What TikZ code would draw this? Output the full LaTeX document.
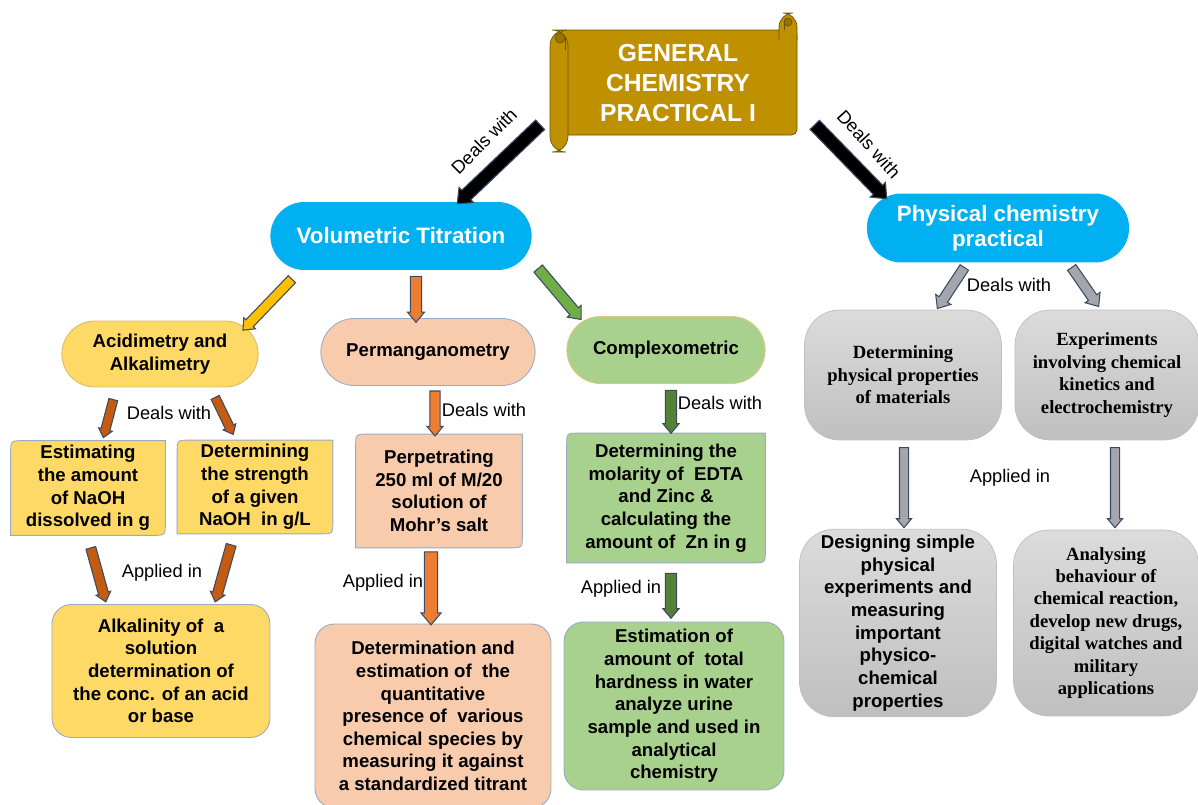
\documentclass[tikz,border=0pt]{standalone}
\usepackage{fontspec}
\setsansfont{Liberation Sans}
\newfontfamily\timesfam{Liberation Serif}
\usetikzlibrary{shapes.misc,shapes.arrows,calc,backgrounds}
\definecolor{scroll}{HTML}{BF9000}
\definecolor{scrolledge}{HTML}{6B5200}
\definecolor{titleblue}{HTML}{00B0F0}
\definecolor{acidfill}{HTML}{FFD966}
\definecolor{permfill}{HTML}{F8CBAD}
\definecolor{compfill}{HTML}{A9D18E}
\definecolor{boxedge}{HTML}{9AAAC4}
\definecolor{arrowedge}{HTML}{3B4A63}
\definecolor{arryellow}{HTML}{FFC000}
\definecolor{arrorange}{HTML}{ED7D31}
\definecolor{arrbrown}{HTML}{C55A11}
\definecolor{arrgreen}{HTML}{70AD47}
\definecolor{arrdkgreen}{HTML}{548235}
\definecolor{arrgray}{HTML}{A3A6AD}

\tikzset{
	txt/.style={font=\sffamily\bfseries\fontsize{10.6}{12.9}\selectfont, align=center},
	sertxt/.style={font=\timesfam\bfseries\fontsize{10.6}{12.8}\selectfont, align=center},
	stadium/.style={rounded rectangle, draw=boxedge, line width=0.5pt, txt},
	diag/.style={rectangle, inner sep=0pt, txt},
	roundbox/.style={rectangle, rounded corners=11pt, draw=boxedge, line width=0.5pt, txt},
	barrel/.style={rectangle, rounded corners=20pt, draw=black!25, top color=black!14, bottom color=black!25},
	lbl/.style={font=\sffamily\fontsize{10.4}{12}\selectfont, inner sep=1pt},
	barrow/.style={single arrow, fill=#1, draw=arrowedge, line width=0.6pt, inner xsep=0pt, single arrow tip angle=80},
	shaft/.style={inner ysep=#1*0.285pt},
	head/.style={single arrow head extend=#1*0.285pt}
}

% block arrow between two named points
\newcommand\blockarrow[3]{%
	\path let \p1=(#2), \p2=(#3), \n1={atan2(\y2-\y1,\x2-\x1)}, \n2={veclen(\x2-\x1,\y2-\y1)} in
		node[#1, minimum height=\n2, rotate=\n1] at ($(#2)!0.5!(#3)$) {};}
% box with top left and bottom right corners rounded
\newcommand\diagshape[2]{%
	\begin{pgfonlayer}{background}
	\draw[fill=#2, draw=boxedge, line width=0.5pt] ([yshift=-7pt]#1.north west) .. controls (#1.north west) .. ([xshift=7pt]#1.north west)
		-- (#1.north east) -- ([yshift=7pt]#1.south east) .. controls (#1.south east) .. ([xshift=-7pt]#1.south east)
		-- (#1.south west) -- cycle;
	\end{pgfonlayer}}

\begin{document}
\begin{tikzpicture}[x=0.02cm,y=-0.02cm]
	\useasboundingbox (0,0) rectangle (1198,805);
	% title scroll
	\draw[scrolledge, fill=scroll, rounded corners=3] (560,30) rectangle (797,135);
	\draw[scrolledge, fill=scroll, rounded corners=8] (779,40) -- (779,13) -- (797,13) -- (797,40);
	\draw[scrolledge, fill=scroll!80!black] (788,22) circle (4);
	\draw[scrolledge] (784,30) -- (784,22);
	\draw[scrolledge, fill=scroll, rounded corners=9] (550,30) rectangle (568,152);
	\draw[scrolledge, fill=scroll!80!black] (560,38) circle (5);
	\draw[scrolledge] (565,38) -- (565,50);
	\node[text=white, align=center, font=\sffamily\bfseries\fontsize{14}{17}\selectfont] (title) at (678,83) {GENERAL\\CHEMISTRY\\PRACTICAL I};

	% first level
	\node[stadium, draw=none, fill=titleblue, text=white, font=\sffamily\bfseries\fontsize{12.7}{14.2}\selectfont, minimum width=5.46cm, minimum height=1.36cm] (vt) at (401,236) {Volumetric Titration};
	\node[stadium, draw=none, fill=titleblue, text=white, font=\sffamily\bfseries\fontsize{12.7}{14.2}\selectfont, minimum width=5.48cm, minimum height=1.38cm] (pc) at (998,228) {Physical chemistry\\practical};
	\node[lbl, rotate=45] (dwl) at (484,141) {Deals with};
	\node[lbl, rotate=-48] (dwr) at (869,144) {Deals with};

	% volumetric branch
	\node[stadium, fill=acidfill, draw=scroll!60, minimum width=4.16cm, minimum height=1.32cm] (aa) at (160,354) {Acidimetry and\\Alkalimetry};
	\node[stadium, fill=permfill, minimum width=4.52cm, minimum height=1.34cm] (pm) at (428,352) {Permanganometry};
	\node[stadium, fill=compfill, draw=scroll!50, minimum width=4.2cm, minimum height=1.34cm] (cx) at (666,350) {Complexometric};

	\node[diag, minimum width=3.08cm, minimum height=1.88cm] (est) at (88,488) {Estimating\\the amount\\of NaOH\\dissolved in g};
	\node[diag, minimum width=3.1cm, minimum height=1.86cm] (det) at (255,487) {Determining\\the strength\\of a given\\NaOH~ in g/L};
	\node[diag, minimum width=3.32cm, minimum height=2.26cm] (per) at (439,491) {Perpetrating\\250 ml of M/20\\solution of\\Mohr's salt};
	\node[diag, minimum width=3.96cm, minimum height=2.58cm] (mol) at (666,498) {Determining the\\molarity of~ EDTA\\and Zinc \&\\calculating the\\amount of~ Zn in g};
	\diagshape{est}{acidfill}
	\diagshape{det}{acidfill}
	\diagshape{per}{permfill}
	\diagshape{mol}{compfill}

	\node[roundbox, fill=acidfill, minimum width=4.36cm, minimum height=2.66cm] (alk) at (161,671) {Alkalinity of~ a\\solution\\determination of\\the conc. of an acid\\or base};
	\node[roundbox, fill=permfill, minimum width=4.72cm, minimum height=3.68cm] (dee) at (433,716) {Determination and\\estimation of~ the\\quantitative\\presence of~ various\\chemical species by\\measuring it against\\a standardized titrant};
	\node[roundbox, fill=compfill, minimum width=4.4cm, minimum height=3.36cm] (eah) at (674,706) {Estimation of\\amount of~ total\\hardness in water\\analyze urine\\sample and used in\\analytical\\chemistry};

	\node[lbl] (dw1) at (169,413) {Deals with};
	\node[lbl] (dw2) at (484,410) {Deals with};
	\node[lbl] (dw3) at (720,403) {Deals with};
	\node[lbl] (ap1) at (162,573) {Applied in};
	\node[lbl] (ap2) at (383,583) {Applied in};
	\node[lbl] (ap3) at (621,589) {Applied in};

	% physical branch
	\node[barrel, sertxt, minimum width=3.94cm, minimum height=2.6cm] (dpp) at (903,375) {Determining\\physical properties\\of materials};
	\node[barrel, sertxt, minimum width=3.68cm, minimum height=2.6cm] (eck) at (1107,375) {Experiments\\involving chemical\\kinetics and\\electrochemistry};
	\node[barrel, txt, minimum width=3.94cm, minimum height=3.72cm] (dsp) at (898,623) {Designing simple\\physical\\experiments and\\measuring\\important\\physico-\\chemical\\properties};
	\node[barrel, sertxt, minimum width=3.7cm, minimum height=3.72cm] (abc) at (1106,623) {Analysing\\behaviour of\\chemical reaction,\\develop new drugs,\\digital watches and\\military\\applications};
	\node[lbl] (dw4) at (1009,285) {Deals with};
	\node[lbl] (ap4) at (1010,478) {Applied in};

	% arrow end points
	\coordinate (bl1) at (543,122); \coordinate (bl2) at (460,201);
	\coordinate (br1) at (812,122); \coordinate (br2) at (884,196);
	\coordinate (y1) at (294,277);  \coordinate (y2) at (245,328);
	\coordinate (o1) at (416,273);  \coordinate (o2) at (416,319);
	\coordinate (g1) at (536,266);  \coordinate (g2) at (579,317);
	\coordinate (b1) at (114,397);  \coordinate (b2) at (104,435);
	\coordinate (b3) at (214,395);  \coordinate (b4) at (232,432);
	\coordinate (o3) at (435,388);  \coordinate (o4) at (435,433);
	\coordinate (g3) at (671,387);  \coordinate (g4) at (671,430);
	\coordinate (b5) at (90,545);   \coordinate (b6) at (105,599);
	\coordinate (b7) at (232,542);  \coordinate (b8) at (216,599);
	\coordinate (o5) at (431,548);  \coordinate (o6) at (431,621);
	\coordinate (g5) at (671,570);  \coordinate (g6) at (671,615);
	\coordinate (s1) at (966,265);  \coordinate (s2) at (939,306);
	\coordinate (s3) at (1070,265); \coordinate (s4) at (1097,304);
	\coordinate (s5) at (904,445);  \coordinate (s6) at (904,525);
	\coordinate (s7) at (1115,445); \coordinate (s8) at (1115,525);

	\blockarrow{barrow=black, shaft=12, head=8}{bl1}{bl2}
	\blockarrow{barrow=black, shaft=12, head=8}{br1}{br2}
	\blockarrow{barrow=arryellow, shaft=9, head=6}{y1}{y2}
	\blockarrow{barrow=arrorange, shaft=10, head=6}{o1}{o2}
	\blockarrow{barrow=arrgreen, shaft=10, head=7}{g1}{g2}
	\blockarrow{barrow=arrbrown, shaft=8, head=5}{b1}{b2}
	\blockarrow{barrow=arrbrown, shaft=8, head=5}{b3}{b4}
	\blockarrow{barrow=arrorange, shaft=9, head=6}{o3}{o4}
	\blockarrow{barrow=arrdkgreen, shaft=10, head=5}{g3}{g4}
	\blockarrow{barrow=arrbrown, shaft=9, head=5}{b5}{b6}
	\blockarrow{barrow=arrbrown, shaft=9, head=5}{b7}{b8}
	\blockarrow{barrow=arrorange, shaft=12, head=7}{o5}{o6}
	\blockarrow{barrow=arrdkgreen, shaft=10, head=5}{g5}{g6}
	\blockarrow{barrow=arrgray, shaft=9, head=8}{s1}{s2}
	\blockarrow{barrow=arrgray, shaft=9, head=8}{s3}{s4}
	\blockarrow{barrow=arrgray, shaft=8, head=6}{s5}{s6}
	\blockarrow{barrow=arrgray, shaft=8, head=6}{s7}{s8}
\end{tikzpicture}
\end{document}
